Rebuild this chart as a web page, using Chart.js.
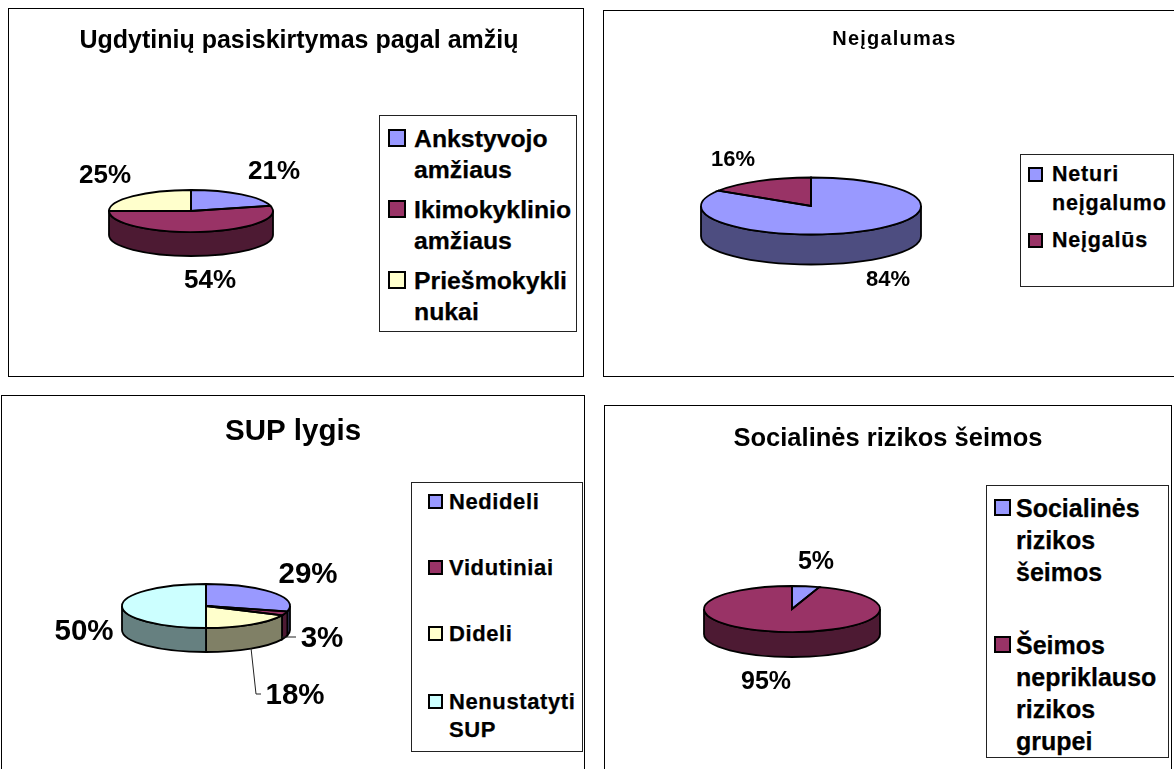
<!DOCTYPE html>
<html lang="lt">
<head>
<meta charset="utf-8">
<title>Ugdytiniai</title>
<script src="https://cdn.jsdelivr.net/npm/chart.js@4/dist/chart.umd.min.js"></script>
<style>
html, body { margin: 0; padding: 0; background: #fff; overflow: hidden; width: 1174px; height: 769px; }
body { position: relative; font-family: "Liberation Sans", Arial, sans-serif; color: #000; }
.frame { position: absolute; box-sizing: border-box; border: 1px solid #000; background: #fff; }
.frame canvas { display: block; }
.legend { position: absolute; box-sizing: border-box; border: 1px solid #222; background: #fff; font-weight: bold; -webkit-text-stroke: .25px #000; }
.legend .row { position: absolute; white-space: nowrap; }
.legend .swatch { position: absolute; box-sizing: border-box; border: 2px solid #000; }
</style>
</head>
<body>
<script>
// data
const ageLabels = [['Ankstyvojo', 'amžiaus'], ['Ikimokyklinio', 'amžiaus'], ['Priešmokykli', 'nukai']];
const ageValues = [21, 54, 25];

const disabilityLabels = [['Neturi', 'neįgalumo'], ['Neįgalūs']];
const disabilityValues = [84, 16];

const supLabels = [['Nedideli'], ['Vidutiniai'], ['Dideli'], ['Nenustatyti', 'SUP']];
const supValues = [29, 3, 18, 50];

const riskLabels = [['Socialinės', 'rizikos', 'šeimos'], ['Šeimos', 'nepriklauso', 'rizikos', 'grupei']];
const riskValues = [5, 95];

const topColors = ['#9999FF', '#993366', '#FFFFCC', '#CCFFFF'];
const sideColors = ['#4D4D80', '#4D1A33', '#808066', '#668080'];

// flattens the library's pie arcs into a 3D looking disc
const tiltedPie = {
    id: 'tiltedPie',
    beforeDraw(chart, args, opts) {
        chart.ctx.letterSpacing = opts.titleSpacing || '0px';
    },
    beforeDatasetsDraw(chart, args, opts) {
        chart.ctx.letterSpacing = '0px';
        const ctx = chart.ctx;
        const arcs = chart.getDatasetMeta(0).data;
        const c = center(opts);
        ctx.save();
        ctx.lineWidth = opts.lineWidth;
        ctx.strokeStyle = '#000';
        arcs.forEach((arc, i) => {
            const a = arc.startAngle, b = arc.endAngle;
            // only the part of the slice facing the viewer has a wall
            [[0, Math.PI], [2 * Math.PI, 3 * Math.PI]].forEach(([lo, hi]) => {
                const from = Math.max(a, lo), to = Math.min(b, hi);
                if (to <= from) return;
                ctx.beginPath();
                ctx.ellipse(c.x, c.y, opts.rx, opts.ry, 0, from, to);
                ctx.ellipse(c.x, c.y + opts.depth, opts.rx, opts.ry, 0, to, from, true);
                ctx.closePath();
                ctx.fillStyle = sideColors[i];
                ctx.fill();
                ctx.stroke();
            });
        });
        ctx.restore();
    },
    beforeDatasetDraw(chart, args, opts) {
        const ctx = chart.ctx;
        const arc = chart.getDatasetMeta(0).data[0];
        const c = center(opts);
        ctx.save();
        ctx.translate(c.x, c.y);
        ctx.scale(opts.rx / arc.outerRadius, opts.ry / arc.outerRadius);
        ctx.translate(-arc.x, -arc.y);
    },
    afterDatasetDraw(chart, args, opts) {
        const ctx = chart.ctx;
        ctx.restore();
        const c = center(opts);
        ctx.save();
        ctx.lineWidth = opts.lineWidth;
        ctx.strokeStyle = '#000';
        chart.getDatasetMeta(0).data.forEach(arc => {
            ctx.beginPath();
            ctx.moveTo(c.x, c.y);
            ctx.ellipse(c.x, c.y, opts.rx, opts.ry, 0, arc.startAngle, arc.endAngle);
            ctx.closePath();
            ctx.stroke();
        });
        ctx.restore();
    },
    afterDatasetsDraw(chart, args, opts) {
        const ctx = chart.ctx;
        const ox = opts.frame.left + 1, oy = opts.frame.top + 1;
        ctx.save();
        ctx.lineWidth = 1;
        ctx.strokeStyle = '#222';
        (opts.leaders || []).forEach(points => {
            ctx.beginPath();
            points.forEach(([x, y]) => ctx.lineTo(x - ox, y - oy));
            ctx.stroke();
        });
        ctx.fillStyle = '#000';
        ctx.font = `bold ${opts.labelSize}px "Liberation Sans"`;
        ctx.letterSpacing = opts.labelSpacing || '0px';
        ctx.textAlign = 'center';
        ctx.textBaseline = 'middle';
        chart.data.datasets[0].data.forEach((v, i) => {
            const [x, y] = opts.labelAt[i];
            ctx.fillText(v + '%', x - ox, y - oy);
        });
        ctx.restore();
    }
};

function center(opts) {
    return { x: opts.cx - opts.frame.left - 1, y: opts.cy - opts.frame.top - 1 };
}

function addLegend(labels, lg) {
    const box = document.createElement('div');
    box.className = 'legend';
    box.style.cssText = `left:${lg.left}px;top:${lg.top}px;width:${lg.width}px;height:${lg.height}px;` +
        `font-size:${lg.size}px;line-height:${lg.lineHeight}px;letter-spacing:${lg.spacing || 0}px`;
    labels.forEach((lines, i) => {
        const sw = document.createElement('div');
        sw.className = 'swatch';
        sw.style.cssText = `left:${lg.swatchX}px;top:${lg.rowTops[i] + lg.swatchDy}px;` +
            `width:${lg.swatch}px;height:${lg.swatch}px;background:${topColors[i]}`;
        box.appendChild(sw);
        const row = document.createElement('div');
        row.className = 'row';
        row.style.cssText = `left:${lg.textX}px;top:${lg.rowTops[i]}px`;
        lines.forEach((line, n) => {
            if (n) row.appendChild(document.createElement('br'));
            row.appendChild(document.createTextNode(line));
        });
        box.appendChild(row);
    });
    document.body.appendChild(box);
}

function addPie(title, labels, values, cfg) {
    const f = cfg.frame;
    const frame = document.createElement('div');
    frame.className = 'frame';
    frame.style.cssText = `left:${f.left}px;top:${f.top}px;width:${f.width}px;height:${f.height}px`;
    const canvas = document.createElement('canvas');
    canvas.width = f.width - 2;
    canvas.height = f.height - 2;
    canvas.setAttribute('role', 'img');
    canvas.setAttribute('aria-label', title);
    frame.appendChild(canvas);
    document.body.appendChild(frame);

    new Chart(canvas, {
        type: 'pie',
        data: {
            labels: labels.map(l => l.join(' ')),
            datasets: [{
                data: values,
                backgroundColor: topColors.slice(0, values.length),
                borderWidth: 0,
                clip: false
            }]
        },
        options: {
            responsive: false,
            animation: false,
            layout: { padding: cfg.padding },
            plugins: {
                legend: { display: false },
                tooltip: { enabled: false },
                title: {
                    display: true,
                    text: title,
                    color: '#000',
                    font: { family: '"Liberation Sans"', size: cfg.titleSize, weight: 'bold' },
                    padding: { top: cfg.titleTop, bottom: 4 }
                },
                tiltedPie: { ...cfg.pie, frame: f }
            }
        },
        plugins: [tiltedPie]
    });
    addLegend(labels, cfg.legend);
}

addPie('Ugdytinių pasiskirtymas pagal amžių', ageLabels, ageValues, {
    frame: { left: 8, top: 8, width: 576, height: 369 },
    padding: { left: 6 },
    titleSize: 25,
    titleTop: 17,
    pie: {
        cx: 191, cy: 211, rx: 82, ry: 21, depth: 24, lineWidth: 1.8, labelSize: 26,
        labelAt: [[274, 172], [210, 281], [105, 176]]
    },
    legend: {
        left: 379, top: 115, width: 198, height: 217, size: 24.8, lineHeight: 31,
        rowTops: [7, 78, 149], swatchX: 8, textX: 34, swatch: 18, swatchDy: 6
    }
});

addPie('Neįgalumas', disabilityLabels, disabilityValues, {
    frame: { left: 603, top: 10, width: 583, height: 367 },
    padding: {},
    titleSize: 20,
    titleTop: 16,
    pie: {
        cx: 811, cy: 206, rx: 110, ry: 28.5, depth: 30, lineWidth: 1.8, labelSize: 22,
        titleSpacing: '1.2px', labelAt: [[888, 280], [733, 160]]
    },
    legend: {
        left: 1020, top: 154, width: 154, height: 133, size: 21.5, lineHeight: 29, spacing: 0.8,
        rowTops: [5, 71], swatchX: 7, textX: 31, swatch: 15, swatchDy: 7
    }
});

addPie('SUP lygis', supLabels, supValues, {
    frame: { left: 1, top: 395, width: 584, height: 390 },
    padding: {},
    titleSize: 29.5,
    titleTop: 18,
    pie: {
        cx: 206, cy: 606, rx: 84, ry: 22, depth: 24, lineWidth: 1.8, labelSize: 29.5,
        labelAt: [[308, 575], [322, 639], [295, 696], [84, 632]],
        leaders: [[[282, 637], [296, 637]], [[251, 648], [256, 694], [261, 694]]]
    },
    legend: {
        left: 411, top: 482, width: 172, height: 270, size: 22, lineHeight: 28, spacing: 0.6,
        rowTops: [5, 71, 137, 205], swatchX: 16, textX: 37, swatch: 15, swatchDy: 6
    }
});

addPie('Socialinės rizikos šeimos', riskLabels, riskValues, {
    frame: { left: 604, top: 405, width: 568, height: 380 },
    padding: {},
    titleSize: 25.5,
    titleTop: 18,
    pie: {
        cx: 792, cy: 609, rx: 88, ry: 23, depth: 25, lineWidth: 1.8, labelSize: 25,
        labelAt: [[816, 562], [766, 682]]
    },
    legend: {
        left: 986, top: 485, width: 183, height: 273, size: 25, lineHeight: 32,
        rowTops: [6, 143], swatchX: 7, textX: 29, swatch: 17, swatchDy: 7
    }
});
</script>
</body>
</html>
